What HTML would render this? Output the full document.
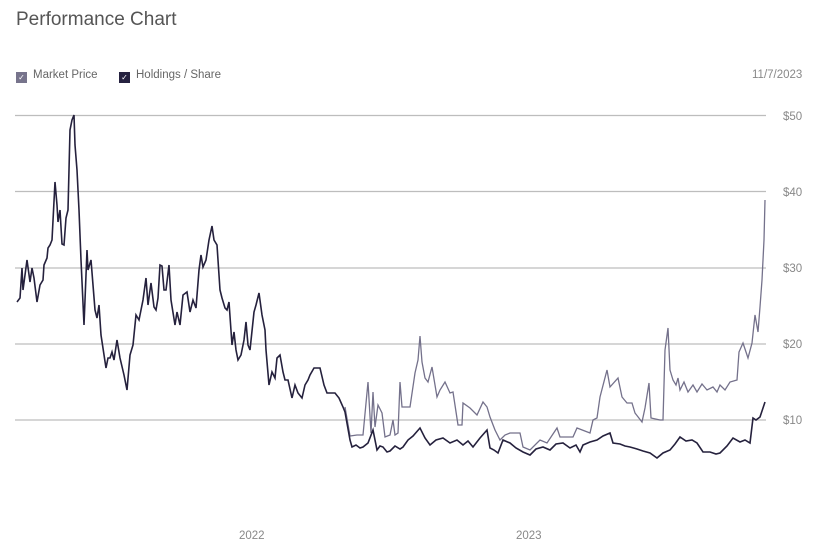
<!DOCTYPE html>
<html><head><style>
body{margin:0;background:#fff;width:817px;height:553px;overflow:hidden;font-family:"Liberation Sans",sans-serif}
.t{position:absolute;left:16px;top:9px;font-size:19px;color:#555}
.lg{position:absolute;top:69px;font-size:11.5px;color:#666}
.bx{display:inline-block;width:11px;height:11px;vertical-align:-2px;margin-right:6px;color:#fff;font-size:8px;text-align:center;line-height:11px}
</style></head><body>
<div class="t">Performance Chart</div>
<div class="lg" style="left:16px"><span class="bx" style="background:#77748c">✓</span>Market Price</div>
<div class="lg" style="left:119px"><span class="bx" style="background:#262240">✓</span>Holdings / Share</div>
<div class="lg" style="left:752px;color:#888">11/7/2023</div>
<svg width="817" height="553" style="position:absolute;left:0;top:0">
<g stroke="#bdbdbd" stroke-width="1.2">
<line x1="15" x2="766" y1="115.5" y2="115.5"/><line x1="15" x2="766" y1="191.5" y2="191.5"/><line x1="15" x2="766" y1="268" y2="268"/><line x1="15" x2="766" y1="344" y2="344"/><line x1="15" x2="766" y1="420" y2="420"/>
</g>
<g font-size="11.5" fill="#888" font-family="Liberation Sans,sans-serif">
<text x="783" y="120">$50</text><text x="783" y="196">$40</text><text x="783" y="272">$30</text><text x="783" y="348">$20</text><text x="783" y="424">$10</text>
<text x="239" y="539">2022</text><text x="516" y="539">2023</text>
</g>
<polyline fill="none" stroke="#74718b" stroke-width="1.3" points="345,407 350,436 357,435 363,435 368,382 371,433 373,392 375,427 378,405 382,413 385,437 390,435 393,420 395,435 398,433 400,382 402,407 410,407 415,373 418,360 420,336 422,362 425,378 428,382 432,367 437,397 440,390 445,382 450,393 453,392 458,425 462,425 463,403 470,408 477,415 483,402 487,407 490,417 495,430 500,440 505,435 510,433 520,433 523,447 530,450 540,440 547,443 557,428 560,437 573,437 577,428 590,433 593,420 597,418 600,397 607,370 610,387 618,378 622,397 627,403 632,403 635,413 642,422 645,408 649,383 651,418 660,420 663,420 665,350 668,328 670,370 673,380 676,385 678,378 680,390 684,382 688,392 693,385 697,392 702,384 707,390 713,387 717,392 720,385 725,390 730,382 737,380 739,352 743,343 748,358 752,343 755,315 758,332 760,307 762,280 764,240 765,200"/>
<polyline fill="none" stroke="#25213d" stroke-width="1.6" points="17,302 20,298 22,268 23,290 27,260 30,282 32,268 34,278 37,302 40,285 43,280 44,265 47,258 48,248 50,245 52,240 55,182 57,205 58,222 60,210 62,244 64,245 66,218 68,210 70,130 72,120 74,115 75,145 77,170 79,210 81,260 84,325 87,250 88,270 91,260 93,285 95,310 97,318 99,305 101,335 106,368 108,358 110,358 112,352 114,360 117,340 120,358 124,375 127,390 130,355 133,345 136,315 139,320 143,300 146,278 148,305 151,283 154,307 156,310 158,298 160,265 162,266 164,290 166,290 169,265 171,300 175,325 177,312 180,325 183,295 187,292 190,312 193,300 196,308 199,270 201,255 203,267 206,260 209,240 212,226 214,240 217,245 220,290 222,298 225,308 227,310 229,302 232,345 234,332 236,350 238,360 241,355 244,340 246,322 248,345 250,350 254,312 256,305 259,293 262,315 265,330 266,350 269,385 272,372 275,378 277,358 280,355 283,372 285,380 288,380 292,398 295,385 298,393 302,398 305,385 308,380 310,375 314,368 318,368 320,368 324,385 327,393 331,393 335,393 339,398 343,407 345,412 350,440 352,447 356,445 360,448 363,447 368,443 373,430 377,450 380,446 383,447 387,452 390,451 395,446 400,449 403,447 408,440 413,436 420,428 425,438 430,445 436,440 443,438 450,443 457,440 463,445 468,441 473,447 480,438 487,430 490,448 494,450 498,453 503,440 510,443 516,448 523,452 530,455 536,449 543,447 550,450 556,444 563,443 570,448 576,445 580,452 583,445 590,442 597,440 603,436 610,433 613,443 620,444 625,446 630,447 637,449 643,451 650,453 657,458 663,453 670,450 675,444 680,437 686,441 692,440 697,443 703,452 710,452 716,454 720,453 727,446 733,438 740,442 745,440 750,443 753,418 756,420 760,417 765,402"/>
</svg>
</body></html>
